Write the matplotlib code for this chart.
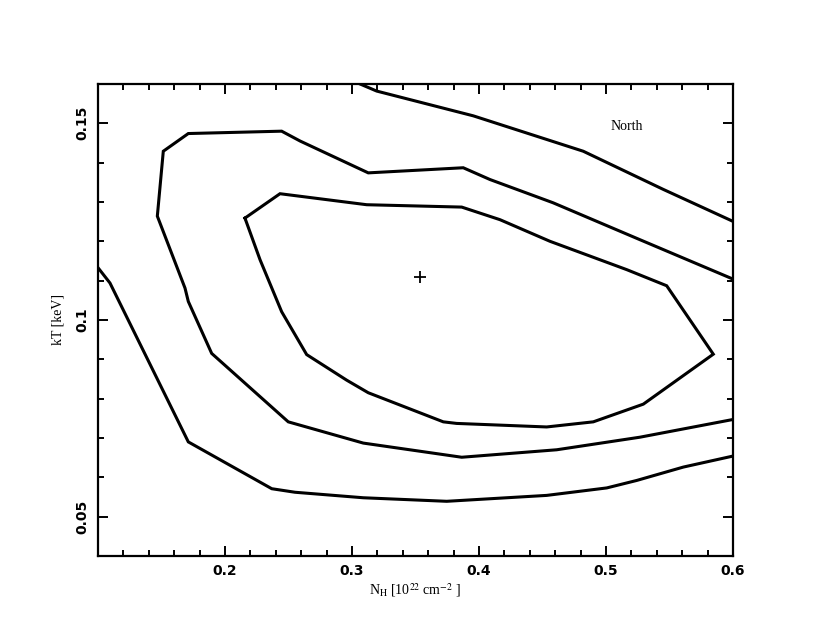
import matplotlib
matplotlib.use('Agg')
import matplotlib.pyplot as plt
from matplotlib.ticker import MultipleLocator

plt.rcParams['mathtext.fontset'] = 'stix'

# 轮廓数据 (N_H, kT)
outer_low_nh = [0.1002, 0.1094, 0.1711, 0.2368, 0.2551, 0.3089, 0.3746, 0.4533, 0.5006, 0.5242, 0.5609, 0.6000]
outer_low_kt = [0.1132, 0.1094, 0.0690, 0.0571, 0.0562, 0.0548, 0.0539, 0.0554, 0.0573, 0.0592, 0.0626, 0.0654]

outer_up_nh = [0.3063, 0.3194, 0.3955, 0.4821, 0.5451, 0.5998]
outer_up_kt = [0.1600, 0.1582, 0.1519, 0.1429, 0.1332, 0.1251]

mid_nh = [0.6000, 0.5268, 0.4583, 0.4087, 0.3876, 0.3128, 0.2591, 0.2446, 0.1711, 0.1514, 0.1467,
          0.1685, 0.1711, 0.1895, 0.2498, 0.3089, 0.3864, 0.4612, 0.5268, 0.6000]
mid_kt = [0.1104, 0.1204, 0.1298, 0.1357, 0.1387, 0.1374, 0.1455, 0.1480, 0.1474, 0.1429, 0.1264,
          0.1081, 0.1047, 0.0915, 0.0741, 0.0687, 0.0651, 0.0670, 0.0702, 0.0747]

inner_nh = [0.2157, 0.2433, 0.3116, 0.3864, 0.4165, 0.4559, 0.5163, 0.5478, 0.5845, 0.5294, 0.4900,
            0.4533, 0.3824, 0.3719, 0.3128, 0.2958, 0.2643, 0.2446, 0.2276, 0.2157]
inner_kt = [0.1259, 0.1321, 0.1293, 0.1287, 0.1255, 0.1200, 0.1128, 0.1087, 0.0913, 0.0786, 0.0741,
            0.0728, 0.0737, 0.0741, 0.0815, 0.0847, 0.0912, 0.1021, 0.1153, 0.1259]

best_nh = 0.3535
best_kt = 0.1108

fig = plt.figure(figsize=(8.3, 6.42), dpi=100)
ax = fig.add_axes([0.1181, 0.134, 0.765, 0.7352])

for xs, ys in [(outer_low_nh, outer_low_kt), (outer_up_nh, outer_up_kt),
               (mid_nh, mid_kt), (inner_nh, inner_kt)]:
    ax.plot(xs, ys, color='black', lw=2.2, solid_joinstyle='miter', clip_on=True)

ax.plot([best_nh], [best_kt], marker='+', color='black', ms=9, mew=1.3)

ax.text(0.5165, 0.1492, 'North', family='Liberation Serif', fontsize=10,
        ha='center', va='center')

ax.set_xlim(0.1, 0.6)
ax.set_ylim(0.04, 0.16)
ax.xaxis.set_major_locator(MultipleLocator(0.1))
ax.xaxis.set_minor_locator(MultipleLocator(0.02))
ax.yaxis.set_major_locator(MultipleLocator(0.05))
ax.yaxis.set_minor_locator(MultipleLocator(0.01))
ax.set_xticks([0.2, 0.3, 0.4, 0.5, 0.6])
ax.set_xticklabels(['0.2', '0.3', '0.4', '0.5', '0.6'])
ax.set_yticks([0.05, 0.1, 0.15])
ax.set_yticklabels(['0.05', '0.1', '0.15'], rotation=90, va='center')

ax.tick_params(which='both', direction='in', top=True, right=True, width=1.4)
ax.tick_params(which='major', length=7, labelsize=10, pad=6)
ax.tick_params(which='minor', length=4)
for lab in ax.get_xticklabels() + ax.get_yticklabels():
    lab.set_fontweight('bold')
    lab.set_family('DejaVu Sans')
for sp in ax.spines.values():
    sp.set_linewidth(1.6)

ax.set_xlabel(r'N$_{\rm H}$ [10$^{22}$ cm$^{-2}$ ]', family='Liberation Serif', fontsize=10, labelpad=2)
ax.set_ylabel('kT [keV]', family='Liberation Serif', fontsize=10, labelpad=8)

plt.savefig('out.png', dpi=100)
plt.close()
